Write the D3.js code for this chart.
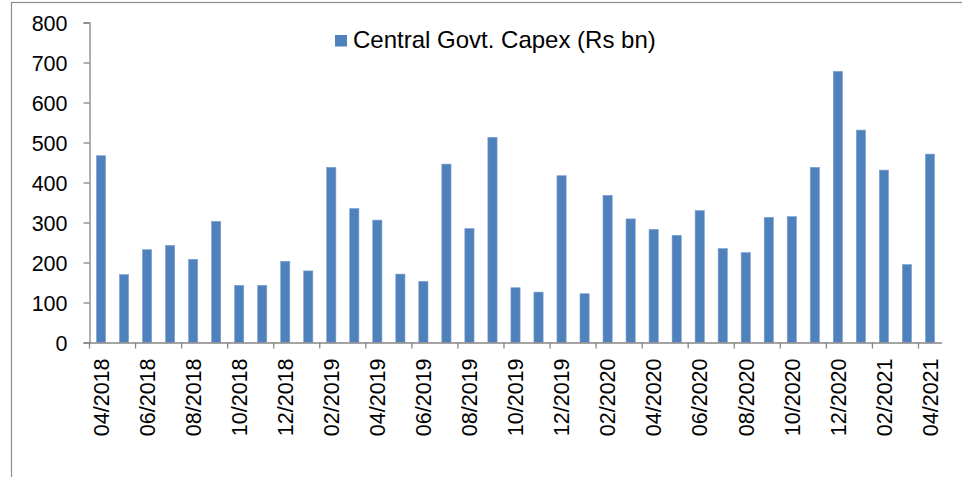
<!DOCTYPE html>
<html>
<head>
<meta charset="utf-8">
<script src="https://cdn.jsdelivr.net/npm/d3@7"></script>
<style>
  body { margin: 0; background: #fff; }
  text { font-family: "Liberation Sans", Arial, sans-serif; fill: #000; }
</style>
</head>
<body>
<script>
// Monthly categories, 04/2018 .. 04/2021
var months = ["04/2018","05/2018","06/2018","07/2018","08/2018","09/2018","10/2018","11/2018","12/2018",
  "01/2019","02/2019","03/2019","04/2019","05/2019","06/2019","07/2019","08/2019","09/2019","10/2019","11/2019","12/2019",
  "01/2020","02/2020","03/2020","04/2020","05/2020","06/2020","07/2020","08/2020","09/2020","10/2020","11/2020","12/2020",
  "01/2021","02/2021","03/2021","04/2021"];

// Central Govt. Capex (Rs bn)
var capex = [467, 170, 232, 243, 208, 303, 143, 143, 203,
  179, 438, 335, 306, 171, 153, 446, 285, 513, 137, 126, 417,
  122, 368, 309, 283, 268, 330, 235, 225, 313, 315, 438, 678,
  531, 431, 195, 471];

var yTicks = [0, 100, 200, 300, 400, 500, 600, 700, 800];
var seriesName = "Central Govt. Capex (Rs bn)";

var svgWidth = 962;
var svgHeight = 477;

var margin = { top: 22.5, right: 20.5, bottom: 134.5, left: 89.5 };
var chartWidth = svgWidth - margin.left - margin.right;
var chartHeight = svgHeight - margin.top - margin.bottom;

var svg = d3.select("body")
  .append("svg")
  .attr("width", svgWidth)
  .attr("height", svgHeight);

// outer frame (runs off the right and bottom edges)
svg.append("rect")
  .attr("x", 11.5)
  .attr("y", 2.5)
  .attr("width", 1000)
  .attr("height", 600)
  .attr("fill", "none")
  .attr("stroke", "#8c8c8c")
  .attr("stroke-width", 1.2);

var chartGroup = svg.append("g")
  .attr("transform", `translate(${margin.left}, ${margin.top})`);

var xScale = d3.scaleBand()
  .domain(months)
  .range([0, chartWidth])
  .paddingInner(0.6)
  .paddingOuter(0.3);

var yScale = d3.scaleLinear()
  .domain([0, 800])
  .range([chartHeight, 0]);

// bars
chartGroup.selectAll(".bar")
  .data(capex)
  .enter()
  .append("rect")
  .attr("x", (d, i) => xScale(months[i]))
  .attr("y", d => yScale(d))
  .attr("width", xScale.bandwidth())
  .attr("height", d => chartHeight - yScale(d))
  .attr("fill", "#4f81bd")
  .attr("stroke", "#7fa3d0")
  .attr("stroke-width", 0.6);

// y axis
var leftAxis = d3.axisLeft(yScale)
  .tickValues(yTicks)
  .tickSize(6)
  .tickPadding(16);

var yAxis = chartGroup.append("g").call(leftAxis);
yAxis.select(".domain").attr("stroke", "#868686").attr("stroke-width", 1.3);
yAxis.selectAll(".tick line").attr("stroke", "#868686").attr("stroke-width", 1.3);
yAxis.selectAll("text")
  .style("font-size", "21.5px")
  .style("font-family", "'Liberation Sans', Arial, sans-serif")
  .attr("fill", "#000")
  .attr("dy", "0.36em");

// x axis: labels on every other month, ticks on band boundaries
var labelMonths = months.filter((m, i) => i % 2 === 0);
var bottomAxis = d3.axisBottom(xScale)
  .tickValues(labelMonths)
  .tickSize(0)
  .tickSizeOuter(0);

var xAxis = chartGroup.append("g")
  .attr("transform", "translate(0, " + chartHeight + ")")
  .call(bottomAxis);
xAxis.select(".domain").attr("stroke", "#868686").attr("stroke-width", 1.3);
xAxis.selectAll("text")
  .style("font-size", "21.5px")
  .style("font-family", "'Liberation Sans', Arial, sans-serif")
  .attr("fill", "#000")
  .attr("transform", "rotate(-90)")
  .attr("text-anchor", "end")
  .attr("x", -16)
  .attr("y", 0)
  .attr("dy", "0.36em");

var step = xScale.step();
chartGroup.selectAll(".xtick")
  .data(labelMonths)
  .enter()
  .append("line")
  .attr("x1", d => xScale(d) - step * 0.3)
  .attr("x2", d => xScale(d) - step * 0.3)
  .attr("y1", chartHeight)
  .attr("y2", chartHeight + 6)
  .attr("stroke", "#868686")
  .attr("stroke-width", 1.3);

// legend
var legend = svg.append("g").attr("transform", "translate(335, 35)");
legend.append("rect")
  .attr("width", 12)
  .attr("height", 11.5)
  .attr("fill", "#4f81bd");
legend.append("text")
  .attr("x", 18)
  .attr("y", 12.5)
  .style("font-size", "24px")
  .text(seriesName);
</script>
</body>
</html>
